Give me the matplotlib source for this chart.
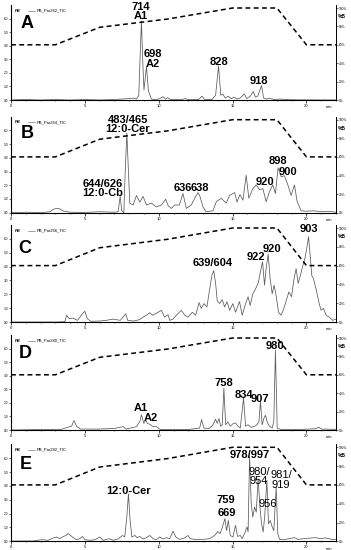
import matplotlib
matplotlib.use('Agg')
import matplotlib.pyplot as plt
from matplotlib.ticker import MultipleLocator

plt.rcParams['font.family'] = ['Liberation Sans', 'DejaVu Sans']

# gradient (%B) program
grad_t = [0, 3, 6, 10.6, 15, 18, 20, 22]
grad_b = [60, 60, 79, 88, 100, 100, 60, 60]

# ---- Panel A trace (time, min ; relative intensity) ----
a_t = [0,1,2,3,4,5,6,7,7.5,8,8.3,8.5,8.65,8.75,8.83,8.92,9.0,9.1,9.17,9.3,9.5,9.8,10.0,10.3,10.45,10.6,10.8,11.5,11.8,12.0,12.7,12.93,13.1,13.6,13.85,14.05,14.2,14.35,14.5,14.7,14.9,15.1,15.3,15.5,15.8,15.95,16.2,16.4,16.55,16.7,16.96,17.1,17.3,17.5,17.8,18.2,18.8,19.5,22]
a_i = [0,0.005,0,0.005,0,0.005,0,0.005,0.01,0.015,0.02,0.01,0.05,0.5,0.83,0.4,0.105,0.25,0.35,0.1,0.01,0.005,0.01,0.035,0.01,0.025,0.005,0.003,0.015,0.003,0.005,0.04,0.005,0.005,0.05,0.36,0.05,0.06,0.02,0.04,0.015,0.03,0.01,0.02,0.065,0.015,0.04,0.09,0.03,0.04,0.15,0.02,0.01,0.02,0.005,0.01,0.003,0.002,0]

# ---- Panel B trace ----
b_t = [0,1,2,2.64,2.86,3.09,3.3,3.54,4,5,6,7,7.25,7.39,7.5,7.64,7.73,7.84,7.95,8.04,8.27,8.49,8.72,8.94,9.17,9.5,9.84,10.18,10.47,10.65,10.86,11.08,11.4,11.64,11.87,12.2,12.43,12.66,12.77,13.0,13.2,13.67,13.9,14.23,14.57,14.8,15.14,15.3,15.5,15.7,15.92,16.1,16.37,16.6,16.82,17.05,17.27,17.5,17.72,17.9,18.08,18.29,18.51,18.74,18.96,19.19,19.37,19.64,20,20.5,21,21.5,22]
b_i = [0,0.005,0,0.01,0.035,0.045,0.04,0.017,0.005,0.003,0.01,0.005,0.01,0.17,0.02,0,0.43,0.83,0.43,0.1,0.08,0.18,0.11,0.17,0.08,0.1,0.06,0.08,0.14,0.07,0.045,0.08,0.08,0.2,0.045,0.08,0.15,0.21,0.18,0.06,0.01,0.02,0.115,0.15,0.1,0.18,0.21,0.11,0.19,0.13,0.39,0.15,0.25,0.29,0.24,0.25,0.115,0.22,0.29,0.2,0.47,0.375,0.385,0.29,0.18,0.29,0.115,0.02,0.015,0.02,0.01,0.015,0.005]

# ---- Panel C trace ----
c_t = [0,1,2,3,3.65,3.76,3.94,4.2,4.5,4.84,5.0,5.16,5.4,6.0,6.45,6.9,7.4,7.77,7.9,8.3,8.7,8.94,9.17,9.39,9.6,9.95,10.18,10.4,10.63,10.74,10.97,11.19,11.53,11.76,11.98,12.27,12.5,12.73,12.88,13.06,13.26,13.45,13.6,13.72,13.85,13.96,14.12,14.3,14.46,14.62,14.8,15.02,15.2,15.47,15.65,15.88,16.05,16.19,16.37,16.55,16.73,16.89,17.03,17.16,17.27,17.41,17.54,17.68,17.81,17.95,18.11,18.29,18.47,18.63,18.81,18.99,19.14,19.3,19.44,19.59,19.75,19.89,20.02,20.14,20.25,20.36,20.47,20.65,20.83,20.99,21.15,21.33,21.55,21.77,22.0]
c_i = [0,0,0,0,0.003,0.07,0.035,0.04,0.017,0.085,0.11,0.035,0.007,0.01,0.017,0.03,0.017,0.085,0.017,0.01,0.024,0.05,0.07,0.095,0.07,0.1,0.12,0.05,0.075,0.017,0.03,0.07,0.12,0.07,0.05,0.1,0.07,0.2,0.14,0.19,0.155,0.34,0.48,0.53,0.4,0.22,0.19,0.23,0.155,0.21,0.12,0.19,0.1,0.21,0.07,0.19,0.26,0.17,0.29,0.34,0.4,0.52,0.62,0.38,0.55,0.7,0.45,0.29,0.38,0.27,0.1,0.07,0.14,0.22,0.31,0.26,0.43,0.55,0.4,0.48,0.58,0.65,0.76,0.88,0.69,0.48,0.45,0.34,0.21,0.12,0.14,0.07,0.05,0.017,0.03]

# ---- Panel D trace ----
d_t = [0,2,3.4,4.1,4.26,4.44,4.7,6,7.0,7.59,7.8,8.49,8.72,8.83,8.99,9.12,9.23,9.4,9.6,9.84,10.1,11,12,12.77,12.9,13.06,13.4,13.67,13.85,13.96,14.08,14.19,14.3,14.41,14.53,14.68,14.84,15.02,15.2,15.36,15.52,15.74,15.88,16.04,16.26,16.49,16.64,16.78,16.89,17.0,17.12,17.23,17.36,17.5,17.68,17.79,17.9,18.02,18.3,19.5,20.65,20.83,21.0,22]
d_i = [0,0.005,0.007,0.04,0.1,0.04,0.01,0.01,0.017,0.035,0.01,0.035,0.09,0.16,0.07,0.105,0.07,0.06,0.035,0.035,0.007,0.004,0.005,0.02,0.11,0.02,0.014,0.055,0.115,0.07,0.12,0.04,0.055,0.44,0.055,0.085,0.04,0.065,0.075,0.04,0.02,0.335,0.04,0.055,0.028,0.04,0.055,0.085,0.3,0.055,0.125,0.155,0.075,0.04,0.02,0.09,0.84,0.02,0.005,0.005,0.014,0.03,0.01,0.007]

# ---- Panel E trace ----
e_t = [0,1.5,2.07,2.5,2.86,3.09,3.3,3.54,3.72,3.87,4.03,4.21,4.43,4.66,4.84,5.0,5.34,5.68,6.01,6.24,6.64,6.91,7.25,7.55,7.7,7.84,7.95,8.06,8.18,8.38,8.54,8.72,8.94,9.17,9.39,9.62,9.84,10.07,10.3,10.52,10.74,10.97,11.15,11.42,11.76,11.98,12.14,12.55,13.0,13.45,13.78,14.0,14.16,14.35,14.48,14.59,14.71,14.84,15.02,15.2,15.34,15.52,15.65,15.81,15.97,16.05,16.15,16.26,16.37,16.49,16.6,16.73,16.85,16.96,17.07,17.18,17.32,17.43,17.55,17.68,17.79,17.95,18.06,18.18,18.6,19.19,19.42,20.0,20.65,20.87,21.3,21.8,22]
e_i = [0.003,0.003,0.017,0.01,0.034,0.045,0.027,0.05,0.06,0.08,0.06,0.038,0.017,0.027,0.05,0.017,0.01,0.017,0.045,0.01,0.027,0.01,0.024,0.06,0.045,0.25,0.49,0.22,0.045,0.06,0.038,0.05,0.024,0.038,0.06,0.027,0.017,0.045,0.024,0.038,0.027,0.105,0.045,0.02,0.034,0.06,0.027,0.017,0.02,0.027,0.06,0.1,0.08,0.165,0.235,0.11,0.215,0.06,0.045,0.165,0.05,0.06,0.027,0.08,0.148,0.096,0.885,0.39,0.25,0.355,0.3,0.645,0.355,0.18,0.096,0.27,0.63,0.18,0.215,0.148,0.11,0.56,0.08,0.02,0.02,0.038,0.02,0.03,0.038,0.027,0.034,0.017,0.02]

panel_letters = ['A', 'B', 'C', 'D', 'E']
trace_names = ['PB_Par262_TIC', 'PB_Par264_TIC', 'PB_Par266_TIC', 'PB_Par280_TIC', 'PB_Par282_TIC']

# peak annotations: (text, time, rel. height, bold)
a_labels = [('714\nA1', 8.78, 0.93, True), ('698\nA2', 9.6, 0.43, True),
            ('828', 14.05, 0.40, True), ('918', 16.76, 0.20, True)]
b_labels = [('483/465\n12:0-Cer', 7.9, 0.92, True), ('644/626\n12:0-Cb', 6.22, 0.25, True),
            ('636', 11.64, 0.254, True), ('638', 12.77, 0.254, True),
            ('920', 17.16, 0.317, True), ('898', 18.04, 0.54, True), ('900', 18.72, 0.427, True)]
c_labels = [('639/604', 13.68, 0.605, True), ('922', 16.59, 0.665, True),
            ('920', 17.68, 0.756, True), ('903', 20.16, 0.956, True)]
d_labels = [('A1', 8.78, 0.228, True), ('A2', 9.44, 0.123, True), ('758', 14.39, 0.495, True),
            ('834', 15.74, 0.372, True), ('907', 16.87, 0.33, True), ('980', 17.9, 0.884, True)]
e_labels = [('12:0-Cer', 7.97, 0.52, True), ('759', 14.53, 0.426, True), ('669', 14.64, 0.29, True),
            ('978/997', 16.15, 0.89, True), ('980/\n954', 16.78, 0.666, False),
            ('956', 17.39, 0.385, False), ('981/\n919', 18.27, 0.635, False)]

traces = [(a_t, a_i), (b_t, b_i), (c_t, c_i), (d_t, d_i), (e_t, e_i)]
labels = [a_labels, b_labels, c_labels, d_labels, e_labels]
letter_pos = [(1.08, 0.81), (1.08, 0.82), (0.95, 0.76), (0.95, 0.81), (1.01, 0.79)]

# layout in pixels: (bottom pixel row, height in pixels)
FIG_W, FIG_H = 351, 550
layout = [(100, 95), (212.7, 96), (322, 97), (430, 95), (541.3, 97)]
left_px, width_px = 11, 325

fig = plt.figure(figsize=(FIG_W / 100, FIG_H / 100), dpi=100)
trace_color = '#5a5a5a'

for k in range(5):
    bot_px, h_px = layout[k]
    ax = fig.add_axes([left_px / FIG_W, 1 - bot_px / FIG_H, width_px / FIG_W, h_px / FIG_H])
    t, inten = traces[k]
    ax.plot(t, inten, color=trace_color, lw=0.55)
    ax.set_xlim(0, 22)
    ax.set_ylim(0, 1)
    ax.spines['top'].set_visible(False)
    for s in ['left', 'bottom', 'right']:
        ax.spines[s].set_linewidth(0.6)
    ax.xaxis.set_major_locator(MultipleLocator(5))
    ax.xaxis.set_minor_locator(MultipleLocator(1))
    ax.tick_params(axis='x', which='major', length=2, width=0.5, labelsize=3, pad=1)
    ax.tick_params(axis='x', which='minor', length=1, width=0.4)
    yt = [j / 7 for j in range(7)]
    ax.set_yticks(yt)
    ax.set_yticklabels(['0.0', '1.0', '2.0', '3.0', '4.0', '5.0', '6.0'])
    ax.tick_params(axis='y', length=1.2, width=0.4, labelsize=2.3, pad=0.8)
    ax.text(21.5, -0.075, 'min', fontsize=3, ha='center', va='center',
            transform=ax.get_xaxis_transform())

    # legend-like header
    yy = 1 - 5.5 / h_px
    ax.text(0.012, yy, 'PB', fontsize=3, style='italic', fontweight='bold',
            ha='left', va='center', transform=ax.transAxes)
    ax.plot([0.052, 0.074], [yy, yy], color=trace_color, lw=0.4, transform=ax.transAxes)
    ax.text(0.08, yy, trace_names[k], fontsize=3, ha='left', va='center', transform=ax.transAxes)

    # panel letter
    lx, ly = letter_pos[k]
    ax.text(lx, ly, panel_letters[k], fontsize=13, fontweight='bold', ha='center', va='center')

    # peak labels
    for txt, tx, ty, bold in labels[k]:
        ax.text(tx, ty, txt, fontsize=8, fontweight='bold' if bold else 'normal',
                ha='center', va='center', linespacing=0.95)

    # gradient axis
    ax2 = ax.twinx()
    ax2.plot(grad_t, grad_b, color='black', lw=1.1, ls=(0, (3.2, 2.2)))
    ax2.set_ylim(0, 100 * h_px / (h_px - 3))
    ax2.set_xlim(0, 22)
    ax2.spines['top'].set_visible(False)
    ax2.spines['right'].set_linewidth(0.6)
    ax2.set_yticks([0, 20, 40, 60, 80, 100])
    ax2.set_yticklabels(['0%', '20%', '40%', '60%', '80%', '100%'])
    ax2.tick_params(axis='y', length=1.2, width=0.4, labelsize=2.3, pad=0.8)
    ax2.text(1.006, 91, '%B', fontsize=3.5, fontweight='bold', ha='left', va='center',
             transform=ax2.get_yaxis_transform())

fig.savefig('out.png', dpi=100)
